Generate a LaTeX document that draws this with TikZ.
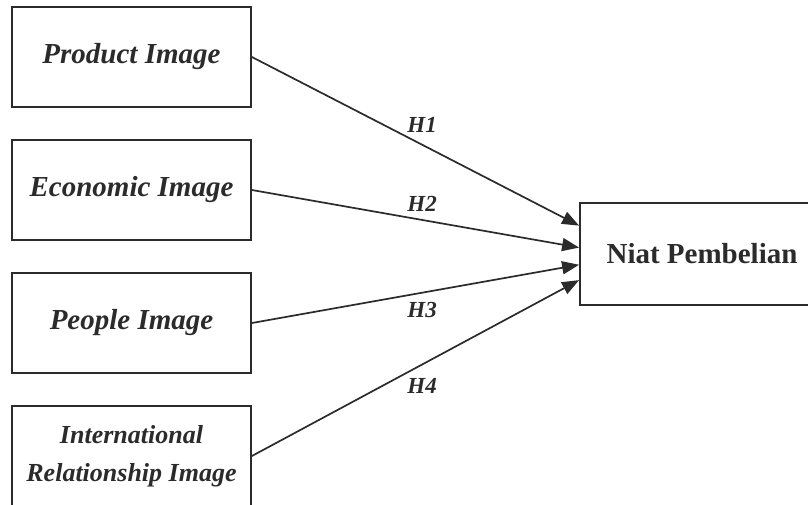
\documentclass[tikz,border=0pt]{standalone}
\usepackage{fontspec}
\setmainfont{Liberation Serif}
\usetikzlibrary{arrows.meta}

\definecolor{ink}{HTML}{2B2B2B}

\begin{document}
\begin{tikzpicture}[x=1pt, y=-1pt, node distance=133pt,
    var/.style={draw=ink, text=ink, line width=1.8pt, minimum width=239pt,
        minimum height=100pt, align=center,
        font=\fontsize{29}{38}\selectfont\bfseries\itshape},
    hyp/.style={text=ink, font=\fontsize{23}{27}\selectfont\bfseries\itshape},
    link/.style={draw=ink, line width=1.7pt, -{Triangle[length=17pt,width=13pt]}}]
    \useasboundingbox (0,0) rectangle (808,504);

    % Nodes
    \node[var] (product) at (131.5,57) {Product Image};
    \node[var, below of=product] (economic) {Economic Image};
    \node[var, below of=economic] (people) {People Image};
    \node[var, below of=people, font=\fontsize{26}{38}\selectfont\bfseries\itshape]
        (relation) {International\\Relationship Image};
    \node[var, font=\fontsize{29}{38}\selectfont\bfseries, minimum width=244pt,
        minimum height=102pt] (niat) at (702,254) {Niat Pembelian};

    % Hypotheses
    \draw[link] (product.east) -- node[hyp, pos=0.52, above=8pt] {H1} (niat.167);
    \draw[link] (economic.east) -- node[hyp, pos=0.52, above=4pt] {H2} (niat.177);
    \draw[link] (people.east) -- node[hyp, pos=0.52, below=5pt] {H3} (niat.185);
    \draw[link] (relation.east) -- node[hyp, pos=0.52, below=10pt] {H4} (niat.192);
\end{tikzpicture}
\end{document}
